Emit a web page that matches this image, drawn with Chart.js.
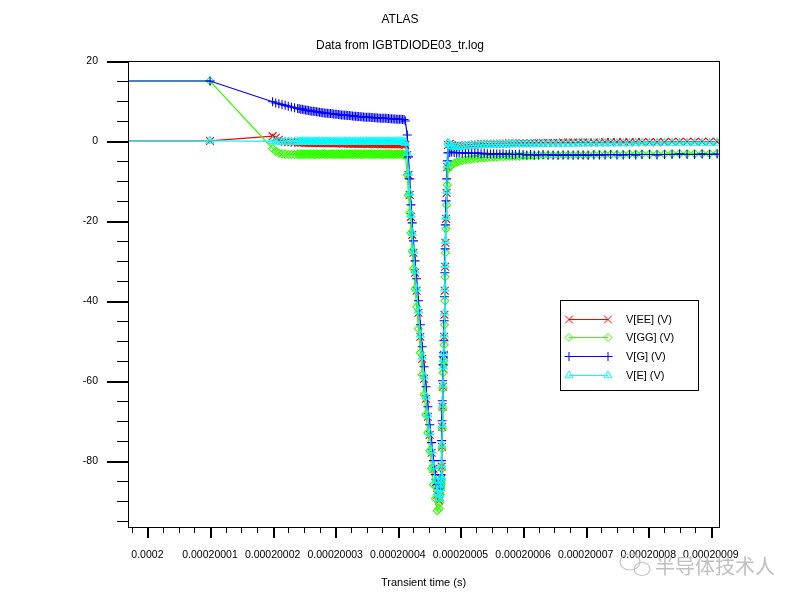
<!DOCTYPE html>
<html>
<head>
<meta charset="utf-8">
<title>ATLAS - IGBTDIODE03_tr.log</title>
<script src="https://cdn.jsdelivr.net/npm/chart.js@4.4.1/dist/chart.umd.min.js"></script>
<style>
    html, body { margin: 0; padding: 0; background: #ffffff; }
    #wrap { width: 800px; height: 600px; }
</style>
</head>
<body>
<div id="wrap"><canvas id="atlasChart" width="800" height="600"></canvas></div>
<script>
// time axis: nanoseconds after 0.0002 s
const timeNs = [
    -20, 10,
    20, 20.5, 21, 21.5, 22, 22.5, 23, 23.5, 24,
    24.25, 24.5, 24.75,
    25, 25.25, 25.5, 25.75,
    26, 26.25, 26.5, 26.75,
    27, 27.25, 27.5, 27.75,
    28, 28.25, 28.5, 28.75,
    29, 29.25, 29.5, 29.75,
    30, 30.25, 30.5, 30.75,
    31, 31.25, 31.5, 31.75,
    32, 32.25, 32.5, 32.75,
    33, 33.25, 33.5, 33.75,
    34, 34.25, 34.5, 34.75,
    35, 35.25, 35.5, 35.75,
    36, 36.25, 36.5, 36.75,
    37, 37.25, 37.5, 37.75,
    38, 38.25, 38.5, 38.75,
    39, 39.25, 39.5, 39.75,
    40, 40.25, 40.5, 40.75,
    41,
    41.2, 41.5, 41.7, 41.9, 42.1, 42.3, 42.5, 42.75, 43.0, 43.3,
    43.6, 43.9, 44.2, 44.5, 44.8, 45.1, 45.4, 45.7, 46.0, 46.3,
    46.6, 46.7, 46.8, 46.85, 46.9, 46.95, 47.0, 47.05, 47.1, 47.15,
    47.2, 47.25, 47.3, 47.35, 47.4, 47.45, 47.5, 47.55, 47.6, 47.7,
    47.8, 47.9, 48.0,
    48.3, 48.6, 49.0, 49.4, 49.8, 50.3, 50.8, 51.3, 51.8, 52.3,
    52.8, 53.3, 53.8, 54.3, 54.8, 55.3, 55.8, 56.3, 56.8, 57.3,
    57.8, 58.3, 58.8, 59.4, 60.0, 60.6, 61.2, 61.8, 62.5, 63.2,
    64.0, 64.8, 65.6, 66.4, 67.2, 68.0, 68.8, 69.6, 70.4, 71.3,
    72.2, 73.1, 74.0, 75.0, 76.0, 77.0, 78.0, 79.0, 80.2, 81.4,
    82.6, 83.8, 85.0, 86.2, 87.4, 88.6, 89.8, 91.0
];

const vEE = [
    0, 0,
    1.2, 0.8, 0.3, 0.0, -0.2, -0.3, -0.3, -0.4, -0.4,
    -0.4, -0.4, -0.4,
    -0.4, -0.5, -0.4, -0.5,
    -0.5, -0.5, -0.5, -0.5,
    -0.5, -0.5, -0.6, -0.5,
    -0.5, -0.6, -0.5, -0.6,
    -0.6, -0.5, -0.6, -0.6,
    -0.6, -0.6, -0.6, -0.6,
    -0.6, -0.7, -0.6, -0.6,
    -0.7, -0.6, -0.7, -0.7,
    -0.7, -0.7, -0.7, -0.7,
    -0.7, -0.7, -0.7, -0.7,
    -0.7, -0.8, -0.7, -0.7,
    -0.7, -0.8, -0.7, -0.8,
    -0.7, -0.8, -0.8, -0.7,
    -0.8, -0.8, -0.8, -0.8,
    -0.8, -0.8, -0.8, -0.8,
    -0.8, -0.8, -0.8, -0.8,
    -0.8,
    -1.0, -3.5, -8.5, -13.5, -19, -23.5, -28, -33, -37.5, -43,
    -49, -54.5, -59.5, -64.5, -69, -73.5, -78, -82, -85.5, -88.5,
    -90, -89, -87.5, -86.5, -85.5, -84.5, -81.5, -76.5, -71.5, -66.5,
    -61.5, -57, -55, -53.5, -49, -43.5, -37.5, -31.5, -25.5, -19.5,
    -13, -6.5, -1,
    -0.7, -1.1, -1.3, -1.3, -1.3, -1.2, -1.1, -1.0, -1.0, -0.9,
    -0.9, -0.8, -0.8, -0.8, -0.8, -0.7, -0.7, -0.7, -0.7, -0.7,
    -0.6, -0.6, -0.6, -0.6, -0.6, -0.6, -0.5, -0.5, -0.5, -0.5,
    -0.5, -0.5, -0.5, -0.4, -0.4, -0.4, -0.4, -0.4, -0.4, -0.4,
    -0.4, -0.3, -0.3, -0.3, -0.3, -0.3, -0.3, -0.3, -0.3, -0.3,
    -0.3, -0.2, -0.2, -0.2, -0.2, -0.2, -0.2, -0.2
];

const vGG = [
    15, 15,
    -1.9, -2.6, -3.0, -3.2, -3.3, -3.4, -3.4, -3.4, -3.3,
    -3.4, -3.3, -3.3,
    -3.4, -3.3, -3.3, -3.4,
    -3.3, -3.3, -3.3, -3.4,
    -3.3, -3.3, -3.4, -3.3,
    -3.3, -3.3, -3.3, -3.4,
    -3.3, -3.3, -3.3, -3.3,
    -3.4, -3.3, -3.3, -3.3,
    -3.3, -3.4, -3.3, -3.3,
    -3.3, -3.3, -3.3, -3.4,
    -3.3, -3.3, -3.3, -3.3,
    -3.3, -3.4, -3.3, -3.3,
    -3.3, -3.3, -3.3, -3.3,
    -3.4, -3.3, -3.3, -3.3,
    -3.3, -3.3, -3.4, -3.3,
    -3.3, -3.3, -3.3, -3.3,
    -3.3, -3.4, -3.3, -3.3,
    -3.3, -3.3, -3.3, -3.3,
    -3.4,
    -3.6, -8.5, -13.5, -18, -23, -27.5, -32, -37, -41.5, -47,
    -53, -58.5, -63.5, -68.5, -73, -77.5, -82, -86, -89.5, -92.5,
    -92, -90.5, -88.5, -87, -86, -85, -82, -77, -72, -67,
    -62, -58, -56, -55, -51, -46, -40, -34, -28, -22,
    -16, -11, -7,
    -6.5, -6.0, -5.6, -5.3, -5.1, -4.9, -4.7, -4.6, -4.5, -4.4,
    -4.3, -4.2, -4.2, -4.1, -4.1, -4.0, -4.0, -3.9, -3.9, -3.9,
    -3.8, -3.8, -3.8, -3.8, -3.7, -3.7, -3.7, -3.7, -3.6, -3.6,
    -3.6, -3.6, -3.6, -3.5, -3.5, -3.5, -3.5, -3.5, -3.5, -3.4,
    -3.4, -3.4, -3.4, -3.4, -3.4, -3.3, -3.3, -3.3, -3.3, -3.3,
    -3.3, -3.2, -3.2, -3.2, -3.2, -3.2, -3.2, -3.1
];

const vG = [
    15, 15,
    9.8, 9.5, 9.3, 9.1, 8.9, 8.7, 8.5, 8.3, 8.1,
    8.05, 7.95, 7.9,
    7.8, 7.75, 7.65, 7.6,
    7.5, 7.45, 7.4, 7.35,
    7.3, 7.25, 7.2, 7.1,
    7.05, 7.0, 6.95, 6.9,
    6.85, 6.85, 6.8, 6.75,
    6.7, 6.65, 6.6, 6.55,
    6.5, 6.5, 6.45, 6.4,
    6.35, 6.35, 6.3, 6.25,
    6.2, 6.15, 6.1, 6.1,
    6.05, 6.05, 6.0, 5.95,
    5.95, 5.9, 5.9, 5.85,
    5.85, 5.8, 5.8, 5.75,
    5.75, 5.7, 5.7, 5.65,
    5.65, 5.6, 5.6, 5.55,
    5.55, 5.5, 5.5, 5.45,
    5.45, 5.4, 5.4, 5.35,
    5.35,
    5.0, 1.5, -4, -9.5, -16, -20.5, -25, -30, -34.5, -40,
    -46, -51.5, -56.5, -61.5, -66.5, -71, -75.5, -80, -83.5, -86,
    -87, -86.5, -85.5, -84.5, -83.5, -80, -75, -70, -65, -60,
    -56, -54, -53, -50, -45, -39, -33, -27, -21, -15,
    -9.5, -5, -3,
    -2.9, -2.8, -2.9, -3.0, -2.9, -3.0, -3.1, -3.0, -3.1, -3.1,
    -3.0, -3.2, -3.1, -3.2, -3.3, -3.2, -3.3, -3.3, -3.2, -3.4,
    -3.3, -3.4, -3.4, -3.3, -3.4, -3.5, -3.4, -3.5, -3.5, -3.4,
    -3.5, -3.5, -3.6, -3.5, -3.5, -3.6, -3.5, -3.5, -3.6, -3.5,
    -3.5, -3.5, -3.4, -3.5, -3.5, -3.4, -3.5, -3.4, -3.4, -3.5,
    -3.4, -3.4, -3.3, -3.4, -3.4, -3.3, -3.4, -3.3
];

const vE = [
    0, 0,
    -0.1, -0.2, -0.2, -0.3, -0.2, -0.2, -0.3, -0.2, -0.2,
    -0.3, -0.2, -0.2,
    -0.2, -0.3, -0.2, -0.2,
    -0.3, -0.2, -0.2, -0.2,
    -0.3, -0.2, -0.2, -0.3,
    -0.2, -0.2, -0.2, -0.3,
    -0.2, -0.2, -0.3, -0.2,
    -0.2, -0.3, -0.2, -0.2,
    -0.2, -0.3, -0.2, -0.2,
    -0.3, -0.2, -0.2, -0.2,
    -0.3, -0.2, -0.2, -0.3,
    -0.2, -0.2, -0.2, -0.3,
    -0.2, -0.2, -0.3, -0.2,
    -0.2, -0.3, -0.2, -0.2,
    -0.2, -0.3, -0.2, -0.2,
    -0.3, -0.2, -0.2, -0.2,
    -0.3, -0.2, -0.2, -0.3,
    -0.2, -0.2, -0.2, -0.3,
    -0.3,
    -0.5, -3, -8, -13, -18.5, -23, -27.5, -32.5, -37, -42.5,
    -48.5, -54, -59, -64, -68.5, -73, -77.5, -81.5, -85, -88,
    -89.5, -88.5, -87, -86, -85, -84, -81, -76, -71, -66,
    -61, -56.5, -54.5, -53, -48.5, -43, -37, -31, -25, -19,
    -12.5, -6, -0.5,
    -0.9, -1.3, -1.5, -1.5, -1.5, -1.4, -1.3, -1.2, -1.2, -1.1,
    -1.1, -1.0, -1.0, -1.0, -1.0, -0.9, -0.9, -0.9, -0.9, -0.9,
    -0.9, -0.8, -0.8, -0.8, -0.8, -0.8, -0.8, -0.8, -0.7, -0.7,
    -0.7, -0.7, -0.7, -0.7, -0.7, -0.7, -0.6, -0.6, -0.6, -0.6,
    -0.6, -0.6, -0.6, -0.6, -0.6, -0.6, -0.5, -0.5, -0.5, -0.5,
    -0.5, -0.5, -0.5, -0.5, -0.5, -0.5, -0.5, -0.5
];

const seriesNames = ['V[EE] (V)', 'V[GG] (V)', 'V[G] (V)', 'V[E] (V)'];
const seriesValues = [vEE, vGG, vG, vE];
const seriesColors = ['#ff0000', '#33ff00', '#0000ff', '#00ffff'];
const seriesMarkers = ['crossRot', 'rectRot', 'cross', 'triangle'];
const markerRadius = [5.5, 4, 4.5, 4.5];
const drawOrder = [4, 3, 2, 1];   // V[E] ends up on top

const xTickValues = [0, 10, 20, 30, 40, 50, 60, 70, 80, 90];
const xTickLabels = ['0.0002', '0.00020001', '0.00020002', '0.00020003', '0.00020004',
                     '0.00020005', '0.00020006', '0.00020007', '0.00020008', '0.00020009'];
const yTickValues = [-80, -60, -40, -20, 0, 20];
const yTickLabels = ['-80', '-60', '-40', '-20', '0', '20'];

const FONT = '"Liberation Sans", Arial, sans-serif';

function drawMarker(ctx, style, r, x, y) {
    ctx.beginPath();
    if (style === 'crossRot') {
        const d = r * Math.SQRT1_2;
        ctx.moveTo(x - d, y - d); ctx.lineTo(x + d, y + d);
        ctx.moveTo(x - d, y + d); ctx.lineTo(x + d, y - d);
    } else if (style === 'cross') {
        ctx.moveTo(x, y - r); ctx.lineTo(x, y + r);
        ctx.moveTo(x - r, y); ctx.lineTo(x + r, y);
    } else if (style === 'rectRot') {
        ctx.moveTo(x, y - r); ctx.lineTo(x + r, y); ctx.lineTo(x, y + r); ctx.lineTo(x - r, y);
        ctx.closePath();
    } else {
        ctx.moveTo(x, y - r); ctx.lineTo(x + 0.866 * r, y + r / 2); ctx.lineTo(x - 0.866 * r, y + r / 2);
        ctx.closePath();
    }
    ctx.stroke();
}

// frame, minor/major tick marks, boxed legend and the watermark
const atlasFrame = {
    id: 'atlasFrame',
    afterDraw(chart) {
        const ctx = chart.ctx;
        const a = chart.chartArea;
        const xs = chart.scales.x;
        const ys = chart.scales.y;
        ctx.save();
        ctx.strokeStyle = '#000';
        ctx.lineWidth = 1;
        const L = Math.round(a.left), T = Math.round(a.top), R = Math.round(a.right), B = Math.round(a.bottom);
        ctx.strokeRect(L + 0.5, T + 0.5, R - L, B - T);

        // y ticks every 5, major every 20
        for (let v = 20; v >= ys.min; v -= 5) {
            const py = Math.round(ys.getPixelForValue(v));
            const major = v % 20 === 0;
            ctx.lineWidth = major ? 2 : 1;
            ctx.beginPath();
            ctx.moveTo(L - (major ? 21 : 11), major ? py + 1 : py + 0.5);
            ctx.lineTo(L, major ? py + 1 : py + 0.5);
            ctx.stroke();
        }
        // x ticks every 2.5 ns, major every 10 ns
        for (let v = -2.5; v <= xs.max; v += 2.5) {
            const px = Math.round(xs.getPixelForValue(v));
            const major = v % 10 === 0;
            ctx.lineWidth = major ? 2 : 1;
            ctx.beginPath();
            ctx.moveTo(major ? px + 1 : px + 0.5, B + 1);
            ctx.lineTo(major ? px + 1 : px + 0.5, B + (major ? 11 : 6));
            ctx.stroke();
        }

        // legend box
        const lx = 560, ly = 300, lw = 138, lh = 90;
        ctx.fillStyle = '#fff';
        ctx.fillRect(lx, ly, lw, lh);
        ctx.lineWidth = 1;
        ctx.strokeStyle = '#000';
        ctx.strokeRect(lx + 0.5, ly + 0.5, lw, lh);
        ctx.font = '11px ' + FONT;
        ctx.textBaseline = 'middle';
        ctx.textAlign = 'left';
        seriesNames.forEach((name, i) => {
            const y = Math.round(ly + 18.5 + i * 18.7) + 0.5;
            ctx.strokeStyle = seriesColors[i];
            ctx.beginPath();
            ctx.moveTo(569, y);
            ctx.lineTo(608, y);
            ctx.stroke();
            drawMarker(ctx, seriesMarkers[i], markerRadius[i], 569, y);
            drawMarker(ctx, seriesMarkers[i], markerRadius[i], 608, y);
            ctx.fillStyle = '#000';
            ctx.fillText(name, 626, y);
        });

        // watermark
        ctx.strokeStyle = '#c4c4c4';
        ctx.lineWidth = 1.2;
        ctx.beginPath();
        ctx.ellipse(630, 562, 10, 8, 0, 0, Math.PI * 2);
        ctx.stroke();
        ctx.beginPath();
        ctx.ellipse(642, 569, 8, 6.5, 0, 0, Math.PI * 2);
        ctx.stroke();
        ctx.fillStyle = '#c0c0c0';
        ctx.font = '20px "Noto Sans CJK SC", sans-serif';
        ctx.fillText('半导体技术人', 655, 566);
        ctx.restore();
    }
};

const datasets = seriesNames.map((name, i) => ({
    label: name,
    data: timeNs.map((t, k) => ({ x: t, y: seriesValues[i][k] })),
    borderColor: seriesColors[i],
    borderWidth: 1.2,
    pointStyle: seriesMarkers[i],
    pointRadius: markerRadius[i],
    pointBorderColor: seriesColors[i],
    pointBackgroundColor: 'rgba(0,0,0,0)',
    pointBorderWidth: 1.1,
    tension: 0,
    showLine: true,
    order: drawOrder[i]
}));

new Chart(document.getElementById('atlasChart').getContext('2d'), {
    type: 'line',
    data: { datasets: datasets },
    options: {
        responsive: false,
        animation: false,
        events: [],
        layout: { padding: { left: 81, right: 81, top: 0, bottom: 0 } },
        plugins: {
            legend: { display: false },
            tooltip: { enabled: false },
            title: {
                display: true,
                text: 'ATLAS',
                color: '#000',
                font: { family: FONT, size: 12, weight: 'normal' },
                padding: { top: 12.8, bottom: 4.6 }
            },
            subtitle: {
                display: true,
                text: 'Data from IGBTDIODE03_tr.log',
                color: '#000',
                font: { family: FONT, size: 12, weight: 'normal' },
                padding: { top: 7, bottom: 7.8 }
            }
        },
        scales: {
            x: {
                type: 'linear',
                min: -3.1,
                max: 91.3,
                grid: { display: false, drawTicks: false },
                border: { display: false },
                afterBuildTicks: s => { s.ticks = xTickValues.map(v => ({ value: v })); },
                afterFit: s => { s.height = 73; },
                ticks: {
                    autoSkip: false,
                    maxRotation: 0,
                    minRotation: 0,
                    padding: 21.7,
                    color: '#000',
                    font: { family: FONT, size: 10.5 },
                    callback: (v, i) => xTickLabels[i]
                },
                title: {
                    display: true,
                    text: 'Transient time (s)',
                    color: '#000',
                    font: { family: FONT, size: 11 },
                    padding: { top: 0, bottom: 10.4 }
                }
            },
            y: {
                type: 'linear',
                min: -96.6,
                max: 20,
                grid: { display: false, drawTicks: false },
                border: { display: false },
                afterBuildTicks: s => { s.ticks = yTickValues.map(v => ({ value: v })); },
                afterFit: s => { s.width = 47; },
                ticks: {
                    padding: 30,
                    color: '#000',
                    font: { family: FONT, size: 10.5 },
                    callback: (v, i) => yTickLabels[i]
                }
            }
        }
    },
    plugins: [atlasFrame]
});
</script>
</body>
</html>
